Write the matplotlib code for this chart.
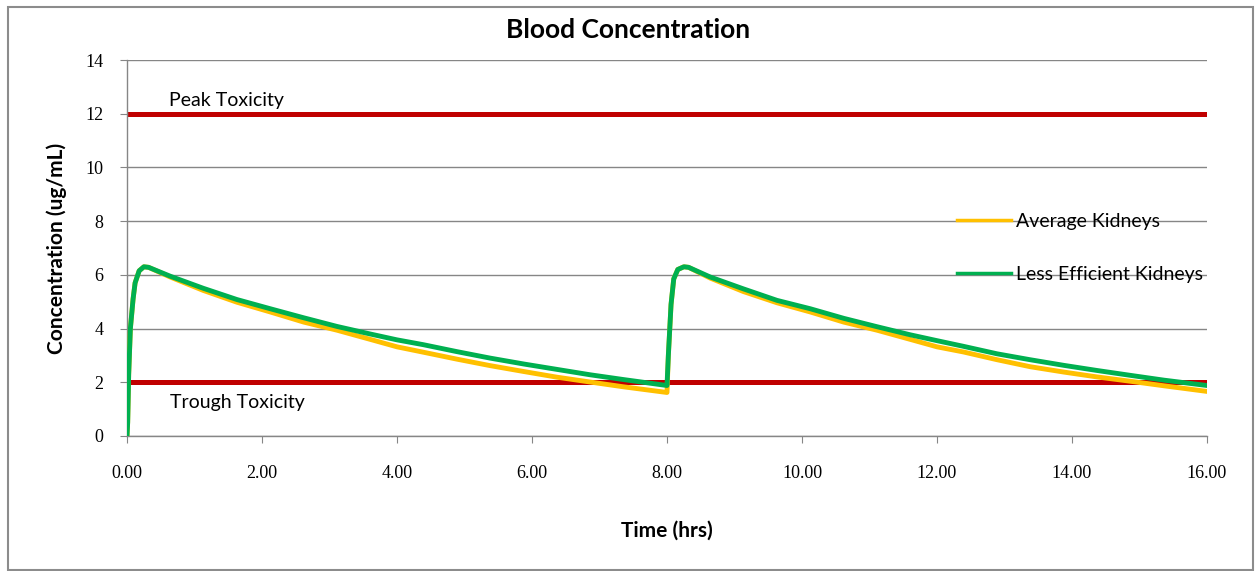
import matplotlib
matplotlib.use('Agg')
import matplotlib.pyplot as plt
from matplotlib.patches import Rectangle

# hours after first dose
time = [0.00, 0.01, 0.025, 0.05, 0.09, 0.12, 0.18, 0.25, 0.32, 0.64, 1.13, 1.63,
        2.12, 2.62, 3.11, 3.60, 4.00, 4.39, 4.89, 5.38, 5.88, 6.37, 6.86, 7.36,
        8.00, 8.02, 8.06, 8.10, 8.16, 8.25, 8.32, 8.64, 9.13, 9.63, 10.12, 10.62,
        11.11, 11.60, 12.00, 12.39, 12.89, 13.38, 13.88, 14.37, 14.86, 15.36, 16.00]

average_kidneys = [0, 0.5, 2.3, 4.0, 5.1, 5.7, 6.15, 6.3, 6.28, 5.92, 5.42, 4.98,
                   4.62, 4.24, 3.94, 3.60, 3.32, 3.12, 2.86, 2.62, 2.40, 2.19, 2.01, 1.83,
                   1.62, 3.0, 4.9, 5.85, 6.2, 6.3, 6.28, 5.88, 5.38, 4.96, 4.62, 4.24,
                   3.94, 3.60, 3.32, 3.13, 2.84, 2.58, 2.38, 2.20, 2.04, 1.87, 1.66]

less_efficient = [0, 0.5, 2.3, 4.0, 5.1, 5.7, 6.15, 6.3, 6.28, 5.95, 5.50, 5.08,
                  4.74, 4.40, 4.08, 3.80, 3.58, 3.40, 3.14, 2.90, 2.68, 2.48, 2.28, 2.10,
                  1.88, 3.0, 4.9, 5.85, 6.2, 6.3, 6.28, 5.92, 5.48, 5.05, 4.74, 4.38,
                  4.07, 3.77, 3.55, 3.34, 3.06, 2.84, 2.63, 2.44, 2.26, 2.08, 1.88]

limit_x = [0, 16]
peak_toxicity = [12, 12]
trough_toxicity = [2, 2]

x_ticks = [0, 2, 4, 6, 8, 10, 12, 14, 16]
y_ticks = [0, 2, 4, 6, 8, 10, 12, 14]

sans = ['Lato', 'DejaVu Sans']
serif = ['Liberation Serif', 'DejaVu Serif']

fig = plt.figure(figsize=(12.57, 5.71), dpi=100)
ax = fig.add_axes([127 / 1257, 1 - 436 / 571, 1080 / 1257, 376 / 571])

# outer chart border
fig.patches.append(Rectangle((8 / 1257, 1 / 571), 1245 / 1257, 563 / 571,
                             transform=fig.transFigure, fill=False,
                             edgecolor='#8c8c8c', linewidth=1.5))

ax.plot(limit_x, peak_toxicity, color='#c00000', lw=3.6, solid_capstyle='butt', zorder=2)
ax.plot(limit_x, trough_toxicity, color='#c00000', lw=3.6, solid_capstyle='butt', zorder=2)
l1, = ax.plot(time, average_kidneys, color='#ffc000', lw=3.5, zorder=3,
              label='Average Kidneys')
l2, = ax.plot(time, less_efficient, color='#00b050', lw=3.5, zorder=4,
              label='Less Efficient Kidneys')

ax.text(0.62, 12.5, 'Peak Toxicity', fontsize=14, family=sans, va='center')
ax.text(0.64, 1.25, 'Trough Toxicity', fontsize=14, family=sans, va='center')

ax.set_xlim(0, 16)
ax.set_ylim(0, 14)
ax.set_xticks(x_ticks)
ax.set_xticklabels([f'{v:.2f}' for v in x_ticks], family=serif, fontsize=13)
ax.set_yticks(y_ticks)
ax.set_yticklabels([str(v) for v in y_ticks], family=serif, fontsize=13)
ax.tick_params(direction='out', length=5, color='#868686', pad=12)
ax.tick_params(axis='x', pad=16)

ax.grid(axis='y', color='#868686', lw=1)
ax.set_axisbelow(True)
for s in ['top', 'right']:
    ax.spines[s].set_visible(False)
for s in ['left', 'bottom']:
    ax.spines[s].set_color('#868686')
    ax.spines[s].set_linewidth(1)

fig.text(0.5, 1 - 30 / 571, 'Blood Concentration', fontsize=19, fontweight='bold',
         family=sans, ha='center', va='center')
ax.set_xlabel('Time (hrs)', fontsize=15, fontweight='bold', family=sans, labelpad=28)
ax.set_ylabel('Concentration (ug/mL)', fontsize=15, fontweight='bold', family=sans,
              labelpad=13)

ax.legend(handles=[l1, l2], loc='center left', frameon=False,
          bbox_to_anchor=(957 / 1257, 1 - 248 / 571), bbox_transform=fig.transFigure,
          borderpad=0, borderaxespad=0, handlelength=2.8, handletextpad=0.25,
          labelspacing=1.85, prop={'family': sans, 'size': 14})
for h in ax.get_legend().legend_handles:
    h.set_linewidth(2.5)

fig.savefig('out.png', dpi=100)
